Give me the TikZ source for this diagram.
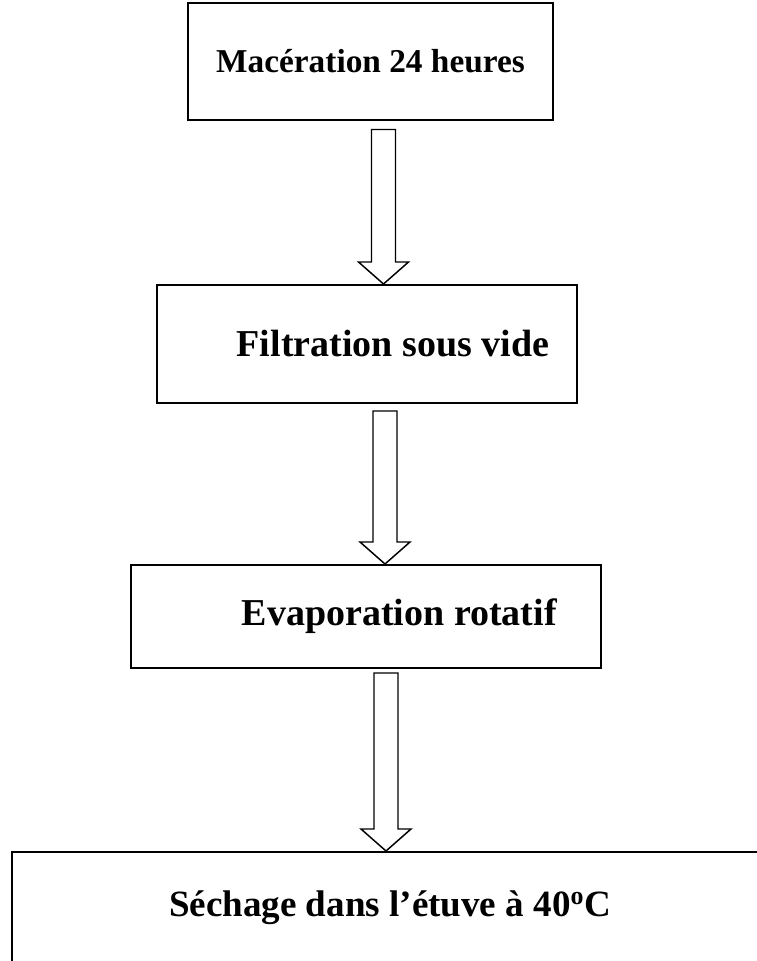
\documentclass[tikz,border=0pt]{standalone}
\usepackage{fontspec}
\setmainfont{Liberation Serif}
\usetikzlibrary{positioning,calc}
\newcommand{\fatarrow}[2]{%
  \draw[fat] ($(#1)+(-12,0)$) -- ($(#2)+(-12,-22)$) -- ($(#2)+(-25,-22)$) -- (#2)
    -- ($(#2)+(25,-22)$) -- ($(#2)+(12,-22)$) -- ($(#1)+(12,0)$) -- cycle;}

\begin{document}
\begin{tikzpicture}[x=0.75pt, y=-0.75pt]
                \tikzset{stage/.style={draw, line width=1.5pt, align=center, inner sep=0pt,
                            font=\fontsize{28.5}{32}\selectfont\bfseries},
                         fat/.style={draw, fill=white, line width=1.1pt, line join=miter}}
                \useasboundingbox (0,0) rectangle (757,961);
                \clip (0,0) rectangle (757,961);
                \node[stage, minimum width=273.75pt, minimum height=87.75pt,
                      font=\fontsize{25}{30}\selectfont\bfseries] (mac) at (370.5,61) {\raisebox{-4pt}{Macération 24 heures}};
                \node[stage, minimum width=315pt, minimum height=88.5pt] (fil) at (367,344) {\hspace*{39pt}Filtration sous vide};
                \node[stage, minimum width=352.5pt, minimum height=77.25pt] (eva) at (366,616.5) {\hspace*{50pt}Evaporation rotatif};
                \node[stage, minimum width=567pt, minimum height=84pt,
                      font=\fontsize{27.8}{32}\selectfont\bfseries] (sec) at (390,908) {Séchage dans l’étuve à 40\textsuperscript{o}C};
                % block arrows between the steps
                \coordinate (a1) at ($(mac.south)+(13,9)$);
                \coordinate (a2) at ($(fil.south)+(18,7)$);
                \coordinate (a3) at ($(eva.south)+(20,4)$);
                \fatarrow{a1}{a1 |- fil.north}
                \fatarrow{a2}{a2 |- eva.north}
                \fatarrow{a3}{a3 |- sec.north}
            \end{tikzpicture}
\end{document}
